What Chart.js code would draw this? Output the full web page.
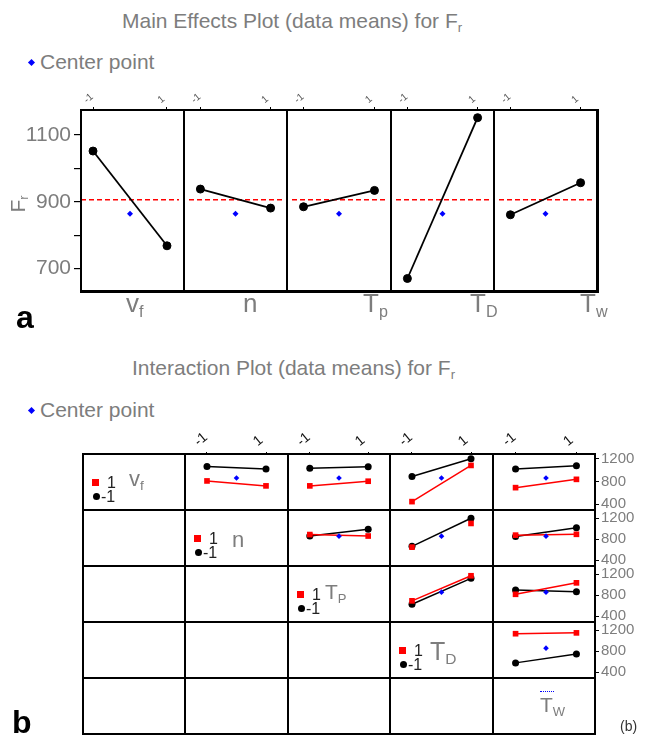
<!DOCTYPE html>
<html>
<head>
<meta charset="utf-8">
<script src="https://cdn.jsdelivr.net/npm/chart.js@4.4.0/dist/chart.umd.min.js"></script>
<style>
  body { margin: 0; background: #fff; font-family: "Liberation Sans", Arial, sans-serif; }
  #page { position: relative; width: 653px; height: 737px; overflow: hidden; background: #fff; }
  .abs { position: absolute; white-space: nowrap; }
  canvas { position: absolute; }
  sub { font-size: 62%; vertical-align: -0.28em; line-height: 0; }
  .line { position: absolute; background: #000; pointer-events: none; }
</style>
</head>
<body>
<div id="page"></div>
<script>
// ---- data ----
var levels = [-1, 1];
var mainLabels = ['v<sub>f</sub>', 'n', 'T<sub>p</sub>', 'T<sub>D</sub>', 'T<sub>w</sub>'];
var mainLow = [1052, 938, 885, 670, 861];   // mean Fr at level -1
var mainHigh = [768, 881, 934, 1152, 957];  // mean Fr at level 1
var mainCenter = 864;                       // center point mean
var grandMean = 906;
var mainTicks = [700, 800, 900, 1000, 1100];
var mainTickLabels = ['700', '', '900', '', '1100'];

var interLabels = ['v<sub>f</sub>', 'n', 'T<sub>P</sub>', 'T<sub>D</sub>', 'T<sub>W</sub>'];
var pairRow = [0, 0, 0, 0, 1, 1, 1, 2, 2, 3];     // legend factor (row)
var pairCol = [1, 2, 3, 4, 2, 3, 4, 3, 4, 4];     // x factor (column)
var blackMinus = [1064, 1032, 885, 1020, 862, 666, 852, 628, 901, 579];   // row factor = -1
var blackPlus = [1020, 1058, 1200, 1075, 993, 1200, 1020, 1123, 868, 748];
var redMinus = [808, 721, 444, 690, 890, 650, 879, 694, 819, 1135];       // row factor = 1
var redPlus = [721, 803, 1081, 836, 862, 1102, 895, 1172, 1037, 1151];
var redLineShown = [true, true, true, true, true, false, true, true, true, true];
var interCenter = 860;
var interTicks = [400, 800, 1200];

// ---- setup ----
var FONT = '"Liberation Sans", Arial, sans-serif';
var GRAY = '#7d7d7d';
Chart.defaults.font.family = FONT;
var page = document.getElementById('page');

function addText(html, left, baseline, size, color, css){
  var d = document.createElement('div');
  d.className = 'abs';
  d.innerHTML = html;
  d.style.left = left + 'px';
  d.style.top = (baseline - 0.8465 * size) + 'px';
  d.style.fontSize = size + 'px';
  d.style.lineHeight = size + 'px';
  d.style.color = color;
  if (css) Object.assign(d.style, css);
  page.appendChild(d);
  return d;
}

function addBox(left, top, w, h, css){
  var d = document.createElement('div');
  d.className = 'line';
  d.style.left = left + 'px'; d.style.top = top + 'px';
  d.style.width = w + 'px'; d.style.height = h + 'px';
  if (css) Object.assign(d.style, css);
  page.appendChild(d);
  return d;
}

function makeCanvas(left, top, w, h){
  var c = document.createElement('canvas');
  c.width = w; c.height = h;
  c.style.left = left + 'px'; c.style.top = top + 'px';
  c.style.width = w + 'px'; c.style.height = h + 'px';
  page.appendChild(c);
  return c;
}

// fix a shown axis' size and drop the extra label padding so chart areas line up
function fixSize(prop, val){
  return function(scale){
    scale[prop] = scale.options.display ? val : 0;
    scale.paddingLeft = scale.paddingRight = scale.paddingTop = scale.paddingBottom = 0;
  };
}

var refLine = {
  id: 'refLine',
  beforeDatasetsDraw: function(chart, args, opts){
    if (opts.value == null) return;
    var a = chart.chartArea, ctx = chart.ctx;
    var y = chart.scales.y.getPixelForValue(opts.value);
    ctx.save();
    ctx.strokeStyle = '#ff0000'; ctx.lineWidth = 1.3; ctx.setLineDash([5, 3]);
    ctx.beginPath(); ctx.moveTo(a.left, y); ctx.lineTo(a.right, y); ctx.stroke();
    ctx.restore();
  }
};

function legendDiamond(cx, cy){
  addBox(cx - 2.5, cy - 2.5, 5, 5, {background: '#0000ff', transform: 'rotate(45deg)'});
}

// ================= (a) main effects =================
addText('Main Effects Plot (data means) for F<sub>r</sub>', 122, 28, 21, GRAY);
legendDiamond(31, 62);
addText('Center point', 40, 69, 21, GRAY);

var frameL = 81, frameT = 110, frameB = 291, panelW = 103.2;
var frameH = frameB - frameT;
var topAxisH = 18, yAxisW = 81;
var edges = [];
for (var e = 0; e <= 5; e++) edges.push(Math.round(frameL + e * panelW));

function mainPanel(i){
  var first = i === 0;
  var left = edges[i] - (first ? yAxisW : 0);
  var w = edges[i + 1] - edges[i] + (first ? yAxisW : 0);
  var c = makeCanvas(left, frameT - topAxisH, w, frameH + topAxisH);
  new Chart(c, {
    data: {
      datasets: [
        { type: 'scatter', data: [{x: 0, y: mainCenter}], pointStyle: 'rectRot', pointRadius: 3,
          backgroundColor: '#0000ff', borderColor: '#0000ff', borderWidth: 0 },
        { type: 'line', data: [{x: levels[0], y: mainLow[i]}, {x: levels[1], y: mainHigh[i]}],
          borderColor: '#000', borderWidth: 1.8, pointRadius: 4, pointBackgroundColor: '#000',
          pointBorderColor: '#000', pointBorderWidth: 1 }
      ]
    },
    options: {
      responsive: false, animation: false, devicePixelRatio: 1,
      layout: { padding: 0 },
      plugins: { legend: { display: false }, tooltip: { enabled: false }, refLine: { value: grandMean } },
      scales: {
        x: {
          type: 'linear', position: 'top', min: -1.325, max: 1.325,
          afterBuildTicks: function(s){ s.ticks = levels.map(function(v){ return {value: v}; }); },
          afterFit: fixSize('height', topAxisH),
          ticks: { color: '#555', font: { size: 10 }, minRotation: 40, maxRotation: 40, padding: 1,
                   autoSkip: false, callback: function(v){ return String(v); } },
          grid: { drawOnChartArea: false, tickLength: 3, color: '#000' },
          border: { display: false }
        },
        y: {
          display: first, min: 647.5, max: 1175,
          afterBuildTicks: function(s){ s.ticks = mainTicks.map(function(v){ return {value: v}; }); },
          afterFit: fixSize('width', yAxisW),
          ticks: { color: GRAY, font: { size: 21 }, padding: 3, autoSkip: false,
                   callback: function(v, idx){ return mainTickLabels[idx]; } },
          grid: { drawOnChartArea: false, tickLength: 7, color: '#000', lineWidth: 1.2 },
          border: { display: false }
        }
      }
    },
    plugins: [refLine]
  });
}
for (var p = 0; p < 5; p++) mainPanel(p);

// frame and panel dividers
addBox(frameL - 1.5, frameT - 1.5, edges[5] - frameL + 3, 2.5);
addBox(frameL - 1.5, frameB - 1, edges[5] - frameL + 3, 2.5);
addBox(frameL - 1.5, frameT - 1.5, 2.5, frameH + 3);
addBox(edges[5] - 1, frameT - 1.5, 2.5, frameH + 3);
for (var d = 1; d < 5; d++) addBox(edges[d] - 0.75, frameT, 1.5, frameH);

addText('F<sub>r</sub>', 17, 211, 21, GRAY, { transform: 'translate(-50%, -50%) rotate(-90deg)', top: '204px', lineHeight: '21px' });
var mainLabelX = [126, 243, 363, 470, 580];
for (var m = 0; m < 5; m++) addText(mainLabels[m], mainLabelX[m], 312, 26, GRAY);
addText('a', 16, 328, 32, '#000', { fontWeight: 'bold' });

// ================= (b) interaction =================
addText('Interaction Plot (data means) for F<sub>r</sub>', 132, 375, 21, GRAY);
legendDiamond(31, 410);
addText('Center point', 40, 417, 21, GRAY);

var gridL = 83, gridT = 454, colW = 102.4, rowH = 56;
var colX = [];
for (var k = 0; k <= 5; k++) colX.push(Math.round(gridL + k * colW));
var rowY = [];
for (var r = 0; r <= 5; r++) rowY.push(gridT + r * rowH);
var topH2 = 22, rightW = 52;

function interCell(n){
  var i = pairRow[n], j = pairCol[n];
  var hasTop = i === 0, hasRight = j === 4;
  var cw = colX[j + 1] - colX[j];
  var c = makeCanvas(colX[j], rowY[i] - (hasTop ? topH2 : 0), cw + (hasRight ? rightW : 0), rowH + (hasTop ? topH2 : 0));
  new Chart(c, {
    data: {
      datasets: [
        { type: 'scatter', data: [{x: 0, y: interCenter}], pointStyle: 'rectRot', pointRadius: 2.8,
          backgroundColor: '#0000ff', borderColor: '#0000ff', borderWidth: 0 },
        { type: 'line', data: [{x: levels[0], y: redMinus[n]}, {x: levels[1], y: redPlus[n]}],
          showLine: redLineShown[n], borderColor: '#ff0000', borderWidth: 1.5, pointStyle: 'rect',
          pointRadius: 4, pointBackgroundColor: '#ff0000', pointBorderColor: '#ff0000', pointBorderWidth: 0 },
        { type: 'line', data: [{x: levels[0], y: blackMinus[n]}, {x: levels[1], y: blackPlus[n]}],
          borderColor: '#000', borderWidth: 1.5, pointRadius: 3.5, pointBackgroundColor: '#000',
          pointBorderColor: '#000', pointBorderWidth: 0 }
      ]
    },
    options: {
      responsive: false, animation: false, devicePixelRatio: 1,
      layout: { padding: 0 },
      plugins: { legend: { display: false }, tooltip: { enabled: false } },
      scales: {
        x: {
          type: 'linear', position: 'top', display: hasTop, min: -1.61, max: 1.61,
          afterBuildTicks: function(s){ s.ticks = levels.map(function(v){ return {value: v}; }); },
          afterFit: fixSize('height', topH2),
          ticks: { color: '#111', font: { size: 14 }, minRotation: 40, maxRotation: 40, padding: 2,
                   autoSkip: false, callback: function(v){ return String(v); } },
          grid: { drawOnChartArea: false, tickLength: 2, color: '#000' },
          border: { display: false }
        },
        y: {
          position: 'right', display: hasRight, min: 367, max: 1282,
          afterBuildTicks: function(s){ s.ticks = interTicks.map(function(v){ return {value: v}; }); },
          afterFit: fixSize('width', rightW),
          ticks: { color: GRAY, font: { size: 15 }, padding: 2, autoSkip: false,
                   callback: function(v){ return String(v); } },
          grid: { drawOnChartArea: false, tickLength: 4, color: '#000' },
          border: { display: false }
        }
      }
    }
  });
}
for (var q = 0; q < pairRow.length; q++) interCell(q);

// grid lines
var gridW = colX[5] - gridL, gridH = rowY[5] - gridT;
for (var v = 0; v <= 5; v++){
  var lw = (v === 0 || v === 5) ? 2.5 : 1.8;
  addBox(colX[v] - lw / 2, gridT - 1, lw, gridH + 2);
  addBox(gridL - 1, rowY[v] - lw / 2, gridW + 2, lw);
}

// row legends on the diagonal
var legNameOff = [46, 47, 37, 40];
var legNameSize = [22, 22, 21, 25];
var legNameBase = [33, 38, 33, 38];
for (var g = 0; g < 4; g++){
  var x0 = colX[g], y0 = rowY[g];
  addBox(x0 + 9, y0 + 25, 6.5, 6.5, {background: '#ff0000'});
  addBox(x0 + 9.5, y0 + 39, 7, 7, {background: '#000', borderRadius: '50%'});
  addText('1', x0 + 24, y0 + 35, 16, '#222');
  addText('-1', x0 + 18, y0 + 49, 16, '#222');
  addText(interLabels[g], x0 + legNameOff[g], y0 + legNameBase[g], legNameSize[g], GRAY);
}
addBox(540, 691, 14, 0, {background: 'none', borderTop: '1.5px dotted #0000ff'});
addText(interLabels[4], 540, 712, 21, GRAY);
addText('(b)', 620, 731, 14, '#333');
addText('b', 12, 733, 32, '#000', { fontWeight: 'bold' });
</script>
</body>
</html>
